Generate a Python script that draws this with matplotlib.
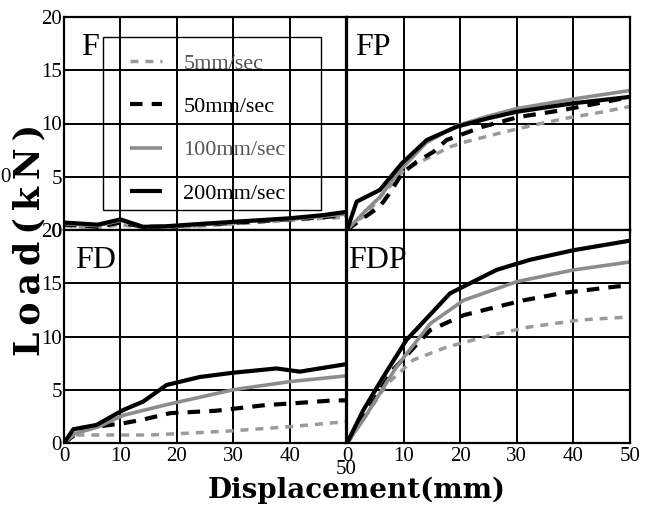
import matplotlib.pyplot as plt
from matplotlib.patches import Rectangle

# speeds and line styles (legend order)
labels = ["5mm/sec", "50mm/sec", "100mm/sec", "200mm/sec"]

# F
F_x = [0, 3, 6, 10, 14, 18, 25, 31, 40, 46, 50]
F_5 = [0.4, 0.3, 0.2, 0.5, 0.2, 0.2, 0.4, 0.6, 0.9, 1.1, 1.2]
F_50 = [0.5, 0.4, 0.3, 0.7, 0.3, 0.3, 0.5, 0.7, 1.0, 1.2, 1.4]
F_100 = [0.6, 0.5, 0.4, 0.9, 0.3, 0.3, 0.5, 0.8, 1.0, 1.3, 1.5]
F_200 = [0.7, 0.6, 0.5, 1.0, 0.3, 0.35, 0.6, 0.8, 1.1, 1.4, 1.7]

# FP
FP_x5 = [0, 1, 2.9, 7.6, 10, 15.2, 18.2, 21.1, 27, 33, 38.8, 45.3, 50]
FP_5 = [0, 0.6, 1.25, 4.1, 5.6, 7.0, 7.8, 8.3, 9.1, 9.86, 10.5, 11.1, 11.6]
FP_x50 = [0, 2, 5.8, 7.6, 9.7, 12.3, 15.3, 17.6, 24, 30.2, 38.2, 48.2, 50]
FP_50 = [0, 0.8, 2.2, 3.5, 5.3, 6.4, 7.35, 8.45, 9.7, 10.6, 11.27, 12.3, 12.4]
FP_x100 = [0, 2.9, 5.8, 9.4, 14, 19.4, 25, 30, 40, 50]
FP_100 = [0, 1.6, 3.1, 5.6, 8.2, 9.8, 10.7, 11.4, 12.3, 13.1]
FP_x200 = [0, 1.7, 5.8, 9.7, 14.1, 19.4, 25, 30, 40, 50]
FP_200 = [0, 2.66, 3.76, 6.26, 8.45, 9.7, 10.5, 11.1, 11.9, 12.5]

# FD
FD_x5 = [0, 2, 9.3, 15, 21.2, 30, 40, 50]
FD_5 = [0, 0.75, 0.75, 0.75, 0.9, 1.15, 1.53, 2.0]
FD_x50 = [0, 3.4, 10.5, 14, 18.8, 27, 35.9, 40, 47.7, 50]
FD_50 = [0, 1.38, 1.85, 2.2, 2.8, 3.03, 3.57, 3.7, 4.0, 4.0]
FD_x100 = [0, 2, 6, 10.5, 18.2, 24.1, 30, 40, 50]
FD_100 = [0, 0.9, 1.5, 2.6, 3.6, 4.3, 5.0, 5.76, 6.3]
FD_x200 = [0, 1.65, 5.8, 10.5, 14, 18.2, 24.1, 30, 37.7, 41.8, 50]
FD_200 = [0, 1.29, 1.7, 3.1, 3.88, 5.45, 6.2, 6.6, 7.0, 6.7, 7.4]

# FDP
FDP_x5 = [0, 3, 7, 11.7, 17.6, 25.3, 32.3, 41.2, 48.8, 50]
FDP_5 = [0, 2.3, 5.5, 7.8, 9.0, 10.1, 10.9, 11.55, 11.8, 11.9]
FDP_x50 = [0, 3, 8, 14.7, 20.6, 24.7, 31.2, 38.3, 47.7, 50]
FDP_50 = [0, 2.5, 6.8, 10.6, 12.0, 12.55, 13.4, 14.1, 14.7, 14.8]
FDP_x100 = [0, 2.9, 8.8, 14.7, 20.6, 30, 40, 50]
FDP_100 = [0, 2.2, 7.2, 11.2, 13.4, 15.15, 16.25, 17.0]
FDP_x200 = [0, 2.9, 6.4, 10.5, 18.2, 26.4, 32.3, 40, 50]
FDP_200 = [0, 3.1, 6.2, 9.67, 14.05, 16.25, 17.2, 18.1, 19.0]

styles = [
    dict(color="#9a9a9a", lw=2.5, dashes=(2.3, 2.0)),
    dict(color="black", lw=3.0, dashes=(3.0, 2.2)),
    dict(color="#8c8c8c", lw=2.6),
    dict(color="black", lw=3.0),
]

panels = [
    ("F", [(F_x, F_5), (F_x, F_50), (F_x, F_100), (F_x, F_200)]),
    ("FP", [(FP_x5, FP_5), (FP_x50, FP_50), (FP_x100, FP_100), (FP_x200, FP_200)]),
    ("FD", [(FD_x5, FD_5), (FD_x50, FD_50), (FD_x100, FD_100), (FD_x200, FD_200)]),
    ("FDP", [(FDP_x5, FDP_5), (FDP_x50, FDP_50), (FDP_x100, FDP_100), (FDP_x200, FDP_200)]),
]
name_x = [0.06, 0.028, 0.039, 0.004]

serif = "Liberation Serif"
fig = plt.figure(figsize=(6.5, 5.07), dpi=100)

W, H = 650, 507
boxes = [
    (64, 17, 282, 213),   # F
    (347, 17, 283, 213),  # FP
    (64, 230, 282, 213),  # FD
    (347, 230, 283, 213),  # FDP
]

for i, ((name, series), (x0, y0, w, h)) in enumerate(zip(panels, boxes)):
    ax = fig.add_axes([x0 / W, 1 - (y0 + h) / H, w / W, h / H])
    for (xs, ys), lab, st in zip(series, labels, styles):
        ax.plot(xs, ys, label=lab, solid_capstyle="butt", dash_capstyle="butt", **st)
    ax.set_xlim(0, 50)
    ax.set_ylim(0, 20)
    ax.set_xticks([0, 10, 20, 30, 40, 50])
    ax.set_yticks([0, 5, 10, 15, 20])
    ax.grid(True, color="black", lw=1.4)
    ax.set_axisbelow(True)
    for s in ax.spines.values():
        s.set_linewidth(1.6)
    ax.tick_params(length=0, labelsize=15)
    ax.tick_params(axis="y", pad=1.5)
    ax.tick_params(axis="x", pad=3)
    for t in ax.get_xticklabels() + ax.get_yticklabels():
        t.set_fontfamily(serif)
    if i % 2 == 1:
        ax.set_yticklabels([])
    if i < 2:
        ax.set_xticklabels([])
    elif i == 2:
        ax.set_xticks([0, 10, 20, 30, 40])
        ax.set_xticklabels(["0", "10", "20", "30", "40"], fontfamily=serif)
        ax.text(50, -0.126, "50", transform=ax.get_xaxis_transform(), ha="center",
                va="center", fontsize=15, fontfamily=serif)
    ax.text(name_x[i], 0.927, name, transform=ax.transAxes, ha="left", va="top",
            fontsize=23, fontfamily=serif)
    if i == 0:
        ax.add_patch(Rectangle((0.138, (230 - 210) / 213), 0.773, 173 / 213,
                               transform=ax.transAxes, fill=False, ec="black", lw=1.0))
        leg = ax.legend(loc="upper left", bbox_to_anchor=(0.234, 0.831),
                        borderaxespad=0, frameon=False,
                        prop={"family": serif, "size": 16}, handlelength=1.45,
                        handletextpad=0.95, labelspacing=1.03, borderpad=0)
        leg.get_texts()[0].set_color("#555555")
        leg.get_texts()[2].set_color("#555555")

fig.text(29 / W, 1 - 240 / H, "L\u2009o\u2009a\u2009d\u2009(\u2009k\u2009N\u2009)", rotation=90,
         ha="center", va="center", fontsize=25, fontweight="bold", fontfamily="DejaVu Serif")
fig.text(357 / W, 1 - 490 / H, "Displacement(mm)", ha="center", va="center",
         fontsize=20, fontweight="bold", fontfamily="DejaVu Serif")
fig.text(5 / W, 1 - 178 / H, "0", ha="center", va="center", fontsize=15, fontfamily=serif)

fig.savefig("out.png", dpi=100)
